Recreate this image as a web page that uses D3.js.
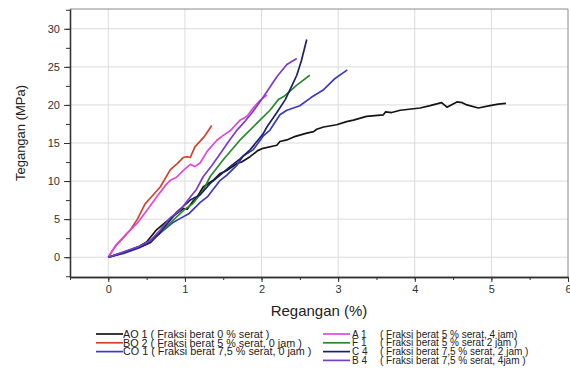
<!DOCTYPE html>
<html>
<head>
<meta charset="utf-8">
<title>Tegangan - Regangan</title>
<style>
    body { margin: 0; background: #fff; }
    svg { font-family: "Liberation Sans", Arial, sans-serif; }
</style>
</head>
<body>
<svg width="570" height="374"></svg>
<script src="https://d3js.org/d3.v7.min.js"></script>
<script>
    // strain (%) / stress (MPa) pairs
    var ao1 = [[0,0],[0.2,0.6],[0.4,1.4],[0.5,2.0],[0.63,3.6],[0.76,4.7],[0.9,5.8],[0.98,6.4],[1.03,6.3],[1.1,7.3],[1.16,7.9],[1.24,9.25],[1.37,10.1],[1.46,11.0],[1.55,11.4],[1.68,12.3],[1.74,12.5],[1.85,13.2],[1.95,14.0],[2.02,14.3],[2.2,14.7],[2.24,15.2],[2.33,15.4],[2.42,15.8],[2.59,16.3],[2.68,16.5],[2.72,16.8],[2.81,17.1],[2.98,17.4],[3.11,17.8],[3.2,18.0],[3.37,18.5],[3.59,18.7],[3.62,19.1],[3.7,19.0],[3.81,19.3],[4.07,19.6],[4.2,19.9],[4.35,20.3],[4.42,19.7],[4.55,20.4],[4.62,20.3],[4.68,20.0],[4.83,19.6],[4.98,19.9],[5.09,20.1],[5.19,20.2]];
    var bo2 = [[0,0],[0.05,0.8],[0.1,1.5],[0.2,2.6],[0.29,3.6],[0.38,5.0],[0.48,7.0],[0.57,8.0],[0.68,9.25],[0.81,11.5],[0.9,12.3],[0.98,13.1],[1.03,13.2],[1.07,13.1],[1.13,14.5],[1.25,15.8],[1.35,17.3]];
    var co1 = [[0,0],[0.2,0.5],[0.4,1.2],[0.5,1.7],[0.68,3.2],[0.85,4.6],[0.94,5.1],[1.05,5.7],[1.2,7.2],[1.3,8.0],[1.46,10.1],[1.55,10.8],[1.68,12.1],[1.76,13.3],[1.89,14.1],[2.02,15.9],[2.11,16.7],[2.24,18.7],[2.33,19.3],[2.5,19.9],[2.65,21.0],[2.81,22.0],[2.95,23.4],[3.12,24.6]];
    var a1 = [[0,0],[0.1,1.6],[0.24,3.1],[0.38,4.5],[0.5,6.1],[0.63,7.9],[0.76,9.6],[0.81,10.1],[0.89,10.5],[0.98,11.4],[1.07,12.2],[1.13,11.9],[1.2,12.4],[1.29,13.9],[1.42,15.4],[1.5,16.0],[1.59,16.6],[1.72,18.0],[1.81,18.5],[1.89,19.6],[1.98,20.6],[2.07,21.3]];
    var f1 = [[0,0],[0.2,0.6],[0.4,1.4],[0.55,2.1],[0.7,3.4],[0.85,4.9],[1.0,6.3],[1.1,7.0],[1.24,8.8],[1.33,10.6],[1.5,12.8],[1.72,15.4],[1.94,17.6],[2.11,19.3],[2.22,20.7],[2.29,21.1],[2.46,22.6],[2.63,23.9]];
    var c4 = [[0,0],[0.2,0.6],[0.4,1.3],[0.55,1.9],[0.68,3.3],[0.81,4.9],[0.9,6.0],[1.07,7.5],[1.2,8.2],[1.33,9.7],[1.46,10.8],[1.59,11.9],[1.72,12.9],[1.85,14.1],[2.02,16.2],[2.07,17.1],[2.2,19.0],[2.31,20.7],[2.4,22.6],[2.46,23.9],[2.52,25.8],[2.59,28.6]];
    var b4 = [[0,0],[0.2,0.7],[0.4,1.4],[0.55,2.2],[0.68,3.6],[0.81,5.2],[0.94,6.2],[1.07,7.9],[1.15,8.9],[1.24,10.6],[1.35,12.0],[1.46,13.6],[1.57,15.2],[1.68,16.7],[1.78,17.8],[1.87,18.9],[2.0,20.7],[2.1,22.2],[2.2,23.7],[2.33,25.3],[2.46,26.1]];

    var seriesNames = ["AO 1", "BO 2", "CO 1", "A 1", "F 1", "C 4", "B 4"];
    var seriesDesc = [
        "( Fraksi berat 0 % serat )",
        "( Fraksi berat 5 % serat, 0 jam )",
        "( Fraksi berat 7,5 % serat, 0 jam )",
        "( Fraksi berat 5 % serat, 4 jam)",
        "( Fraksi berat 5 % serat 2 jam )",
        "( Fraksi berat 7,5 % serat, 2 jam )",
        "( Fraksi berat 7,5 % serat, 4jam )"
    ];
    var seriesColors = ["#151515", "#d1432b", "#3a3ac0", "#e048dc", "#2b8a2b", "#1c2266", "#7a3ccc"];
    var seriesData = [ao1, bo2, co1, a1, f1, c4, b4];

    var xTicks = [0, 1, 2, 3, 4, 5, 6];
    var yTicks = [0, 5, 10, 15, 20, 25, 30];

    var svg = d3.select("svg"),
        plotLeft = 70, plotRight = 568, plotTop = 9, plotBottom = 277;

    var x = d3.scaleLinear().domain([-0.5, 6]).range([plotLeft, plotRight]);
    var y = d3.scaleLinear().domain([-2.6, 32.6]).range([plotBottom, plotTop]);

    // grid
    svg.append("g").selectAll("line")
        .data(xTicks.slice(0, -1))
        .enter().append("line")
        .attr("x1", function(d) { return x(d); }).attr("x2", function(d) { return x(d); })
        .attr("y1", plotTop).attr("y2", plotBottom)
        .attr("stroke", "#dcdcdc").attr("stroke-width", 1);
    svg.append("g").selectAll("line")
        .data(yTicks)
        .enter().append("line")
        .attr("x1", plotLeft).attr("x2", plotRight)
        .attr("y1", function(d) { return y(d); }).attr("y2", function(d) { return y(d); })
        .attr("stroke", "#dcdcdc").attr("stroke-width", 1);

    // frame top / right
    svg.append("path")
        .attr("d", "M" + plotLeft + "," + plotTop + "H" + plotRight + "V" + plotBottom)
        .attr("fill", "none").attr("stroke", "#8a8a8a").attr("stroke-width", 1);

    // curves
    var line = d3.line()
        .x(function(d) { return x(d[0]); })
        .y(function(d) { return y(d[1]); });
    svg.append("g").selectAll("path")
        .data(seriesData)
        .enter().append("path")
        .attr("d", line)
        .attr("fill", "none")
        .attr("stroke", function(d, i) { return seriesColors[i]; })
        .attr("stroke-width", 1.7)
        .attr("stroke-linejoin", "round");

    // axes
    var xMinor = d3.range(-0.5, 6.01, 0.5);
    var yMinor = d3.range(-2.5, 32.6, 2.5);
    svg.append("g")
        .attr("transform", "translate(0," + plotBottom + ")")
        .call(d3.axisBottom(x).tickValues(xMinor).tickFormat("").tickSize(3).tickSizeOuter(0));
    svg.append("g")
        .attr("transform", "translate(" + plotLeft + ",0)")
        .call(d3.axisLeft(y).tickValues(yMinor).tickFormat("").tickSize(4).tickSizeOuter(0));
    var gx = svg.append("g")
        .attr("transform", "translate(0," + plotBottom + ")")
        .call(d3.axisBottom(x).tickValues(xTicks).tickFormat(d3.format("d")).tickSize(5).tickPadding(3).tickSizeOuter(0));
    var gy = svg.append("g")
        .attr("transform", "translate(" + plotLeft + ",0)")
        .call(d3.axisLeft(y).tickValues(yTicks).tickFormat(d3.format("d")).tickSize(6).tickPadding(4).tickSizeOuter(0));
    svg.selectAll(".domain").attr("stroke", "#333").attr("stroke-width", 1.3);
    svg.selectAll(".tick line").attr("stroke", "#333");
    [gx, gy].forEach(function(g) {
        g.selectAll("text")
            .attr("fill", "#333")
            .style("font-size", "11px")
            .style("font-family", "'Liberation Sans', Arial, sans-serif");
    });

    // axis titles
    svg.append("text")
        .attr("x", (plotLeft + plotRight) / 2).attr("y", 316)
        .attr("text-anchor", "middle")
        .attr("fill", "#222")
        .style("font-size", "15px")
        .text("Regangan (%)");
    svg.append("text")
        .attr("transform", "translate(25,133) rotate(-90)")
        .attr("text-anchor", "middle")
        .attr("fill", "#222")
        .style("font-size", "13px")
        .text("Tegangan (MPa)");

    // legend
    var rowY = [334, 342.8, 351.6, 360.4];
    var legend = svg.append("g").attr("fill", "#222");
    seriesNames.forEach(function(name, i) {
        var col = i < 3 ? 0 : 1,
            row = col ? i - 3 : i,
            x0 = col ? 323 : 96,
            yy = rowY[row];
        legend.append("line")
            .attr("x1", x0).attr("x2", x0 + 27)
            .attr("y1", yy).attr("y2", yy)
            .attr("stroke", seriesColors[i]).attr("stroke-width", 1.7);
        if (col === 0) {
            legend.append("text")
                .attr("x", x0 + 27).attr("y", yy).attr("dy", "0.35em")
                .style("font-size", "10.8px")
                .text(name + " " + seriesDesc[i]);
        } else {
            legend.append("text")
                .attr("x", x0 + 29).attr("y", yy).attr("dy", "0.35em")
                .style("font-size", "10px")
                .text(name);
            legend.append("text")
                .attr("x", x0 + 57).attr("y", yy).attr("dy", "0.35em")
                .style("font-size", "10px")
                .text(seriesDesc[i]);
        }
    });
</script>
</body>
</html>
